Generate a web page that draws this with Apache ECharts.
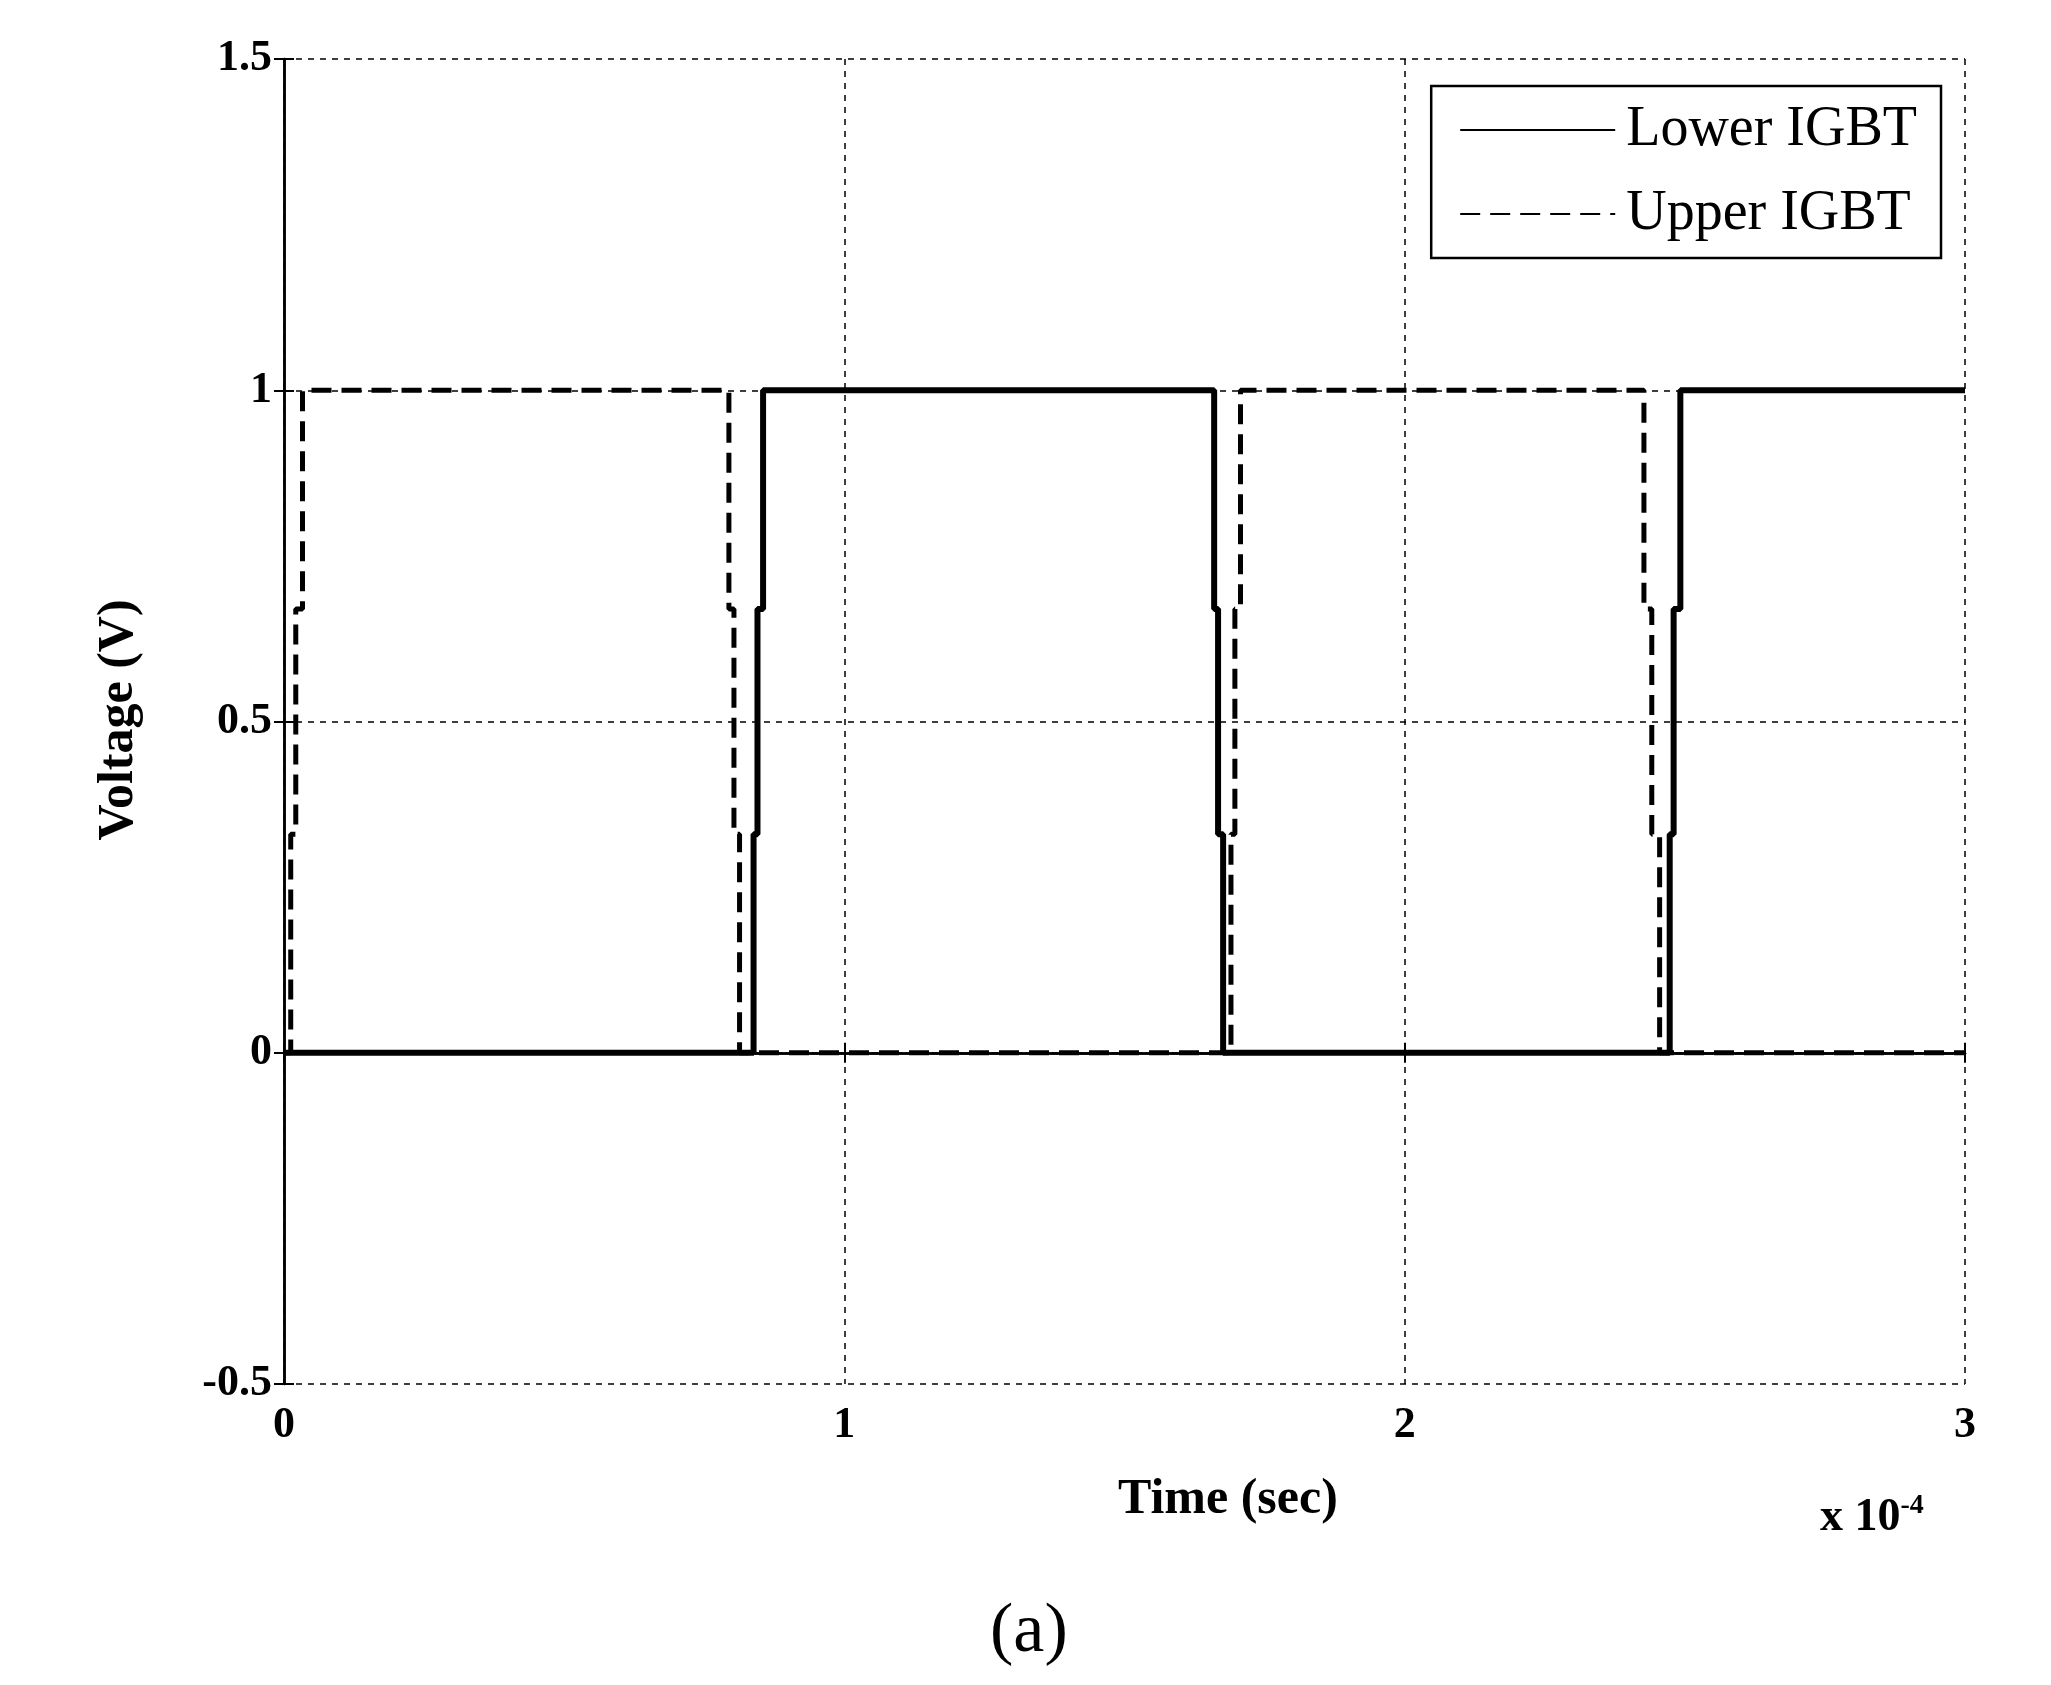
<!DOCTYPE html>
<html>
<head>
<meta charset="utf-8">
<script src="https://cdn.jsdelivr.net/npm/echarts@6/dist/echarts.min.js"></script>
<style>html,body{margin:0;padding:0;background:#fff}#chart{width:2051px;height:1685px}</style>
</head>
<body>
<div id="chart"></div>
<script>
// time in units of 1e-4 s
const lowerT = [0, 0.838, 0.838, 0.845, 0.845, 0.855, 0.855, 1.660, 1.660, 1.667, 1.667, 1.676, 1.676, 2.473, 2.473, 2.480, 2.480, 2.492, 2.492, 3];
const lowerV = [0, 0, 0.33, 0.33, 0.67, 0.67, 1, 1, 0.67, 0.67, 0.33, 0.33, 0, 0, 0.33, 0.33, 0.67, 0.67, 1, 1];
const upperT = [0, 0.012, 0.012, 0.021, 0.021, 0.033, 0.033, 0.794, 0.794, 0.803, 0.803, 0.813, 0.813, 1.690, 1.690, 1.697, 1.697, 1.707, 1.707, 2.427, 2.427, 2.441, 2.441, 2.455, 2.455, 3];
const upperV = [0, 0, 0.33, 0.33, 0.67, 0.67, 1, 1, 0.67, 0.67, 0.33, 0.33, 0, 0, 0.33, 0.33, 0.67, 0.67, 1, 1, 0.67, 0.67, 0.33, 0.33, 0, 0];
const seriesNames = ['Lower IGBT', 'Upper IGBT'];

const font = 'Liberation Serif';
const zip = (t, v) => t.map((x, i) => [x, v[i]]);
const myChart = echarts.init(document.getElementById('chart'));

const gridLine = { show: true, lineStyle: { color: '#000', width: 1.5, type: [6, 6] } };
const tickLabel = { fontFamily: font, fontWeight: 'bold', fontSize: 44, color: '#000' };
const axisLine = { show: true, lineStyle: { color: '#000', width: 2.5 } };
const axisTick = { inside: true, length: 10, lineStyle: { color: '#000', width: 2 } };

myChart.setOption({
  animation: false,
  grid: { left: 284, right: 86, top: 59, bottom: 301 },
  legend: {
    data: seriesNames,
    orient: 'vertical',
    right: 110, top: 86,
    backgroundColor: '#fff',
    borderColor: '#000', borderWidth: 2.5, borderRadius: 0,
    padding: [16, 24, 16, 28],
    itemWidth: 155, itemHeight: 20, itemGap: 28,
    itemStyle: { opacity: 0 },
    textStyle: { fontFamily: font, fontSize: 56, color: '#000', padding: [0, 0, 0, 6] }
  },
  xAxis: [{
    type: 'value', min: 0, max: 3, interval: 1,
    axisLine: axisLine, axisTick: axisTick,
    axisLabel: Object.assign({ margin: 20 }, tickLabel),
    splitLine: gridLine
  }, {
    type: 'value', min: 0, max: 3, interval: 1, position: 'top',
    axisLine: axisLine, axisTick: axisTick,
    axisLabel: { show: false }, splitLine: { show: false }
  }],
  yAxis: [{
    type: 'value', min: -0.5, max: 1.5, interval: 0.5,
    axisLine: axisLine, axisTick: axisTick,
    axisLabel: Object.assign({ margin: 12 }, tickLabel),
    splitLine: gridLine
  }, {
    type: 'value', min: -0.5, max: 1.5, interval: 0.5, position: 'right',
    axisLine: axisLine, axisTick: axisTick,
    axisLabel: { show: false }, splitLine: { show: false }
  }],
  series: [{
    name: seriesNames[0], type: 'line', symbol: 'none',
    data: zip(lowerT, lowerV),
    lineStyle: { color: '#000', width: 6, type: 'solid' },
    itemStyle: { color: '#000' }, z: 3
  }, {
    name: seriesNames[1], type: 'line', symbol: 'none',
    data: zip(upperT, upperV),
    lineStyle: { color: '#000', width: 5, type: [20, 10] },
    itemStyle: { color: '#000' }, z: 4
  }],
  graphic: [
    { type: 'text', left: 1118, top: 1475, style: { text: 'Time (sec)', fontFamily: font, fontWeight: 'bold', fontSize: 50, fill: '#000' } },
    { type: 'text', left: 1820, top: 1492, style: {
      text: '{b|x 10}{s|-4}', rich: {
        b: { fontFamily: font, fontWeight: 'bold', fontSize: 46, fill: '#000' },
        s: { fontFamily: font, fontWeight: 'bold', fontSize: 28, fill: '#000', verticalAlign: 'top', padding: [0, 0, 24, 0] }
      } } },
    { type: 'text', x: 119, y: 720, rotation: Math.PI / 2, style: { text: 'Voltage (V)', fontFamily: font, fontWeight: 'bold', fontSize: 50, fill: '#000', textAlign: 'center', textVerticalAlign: 'middle' } },
    { type: 'text', left: 990, top: 1598, style: { text: '(a)', fontFamily: font, fontSize: 70, fill: '#000' } }
  ]
});
</script>
</body>
</html>
